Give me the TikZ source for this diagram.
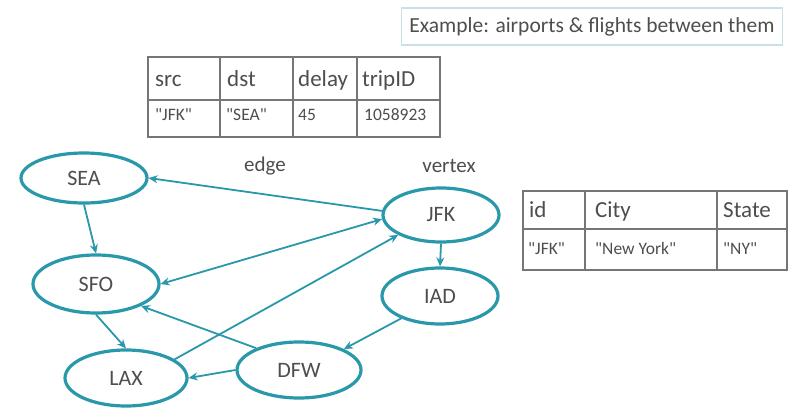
\documentclass[tikz,border=0pt]{standalone}
\usepackage{fontspec}
\setmainfont{Carlito}[Ligatures=TeXOff]
\usetikzlibrary{shapes.geometric,arrows.meta}
\definecolor{edgeteal}{RGB}{40,152,170}
\definecolor{txt}{RGB}{78,78,78}
\definecolor{grid}{RGB}{118,118,118}
\definecolor{boxline}{RGB}{200,225,232}
\begin{document}
\begin{tikzpicture}[x=1pt,y=-1pt,
  airport/.style={ellipse, draw=edgeteal, line width=3.2pt, inner sep=0pt,
    font=\fontsize{22}{24}\selectfont, text=txt},
  flight/.style={draw=edgeteal, line width=1.8pt, -{Stealth[length=9pt,width=8pt]}},
  twoway/.style={draw=edgeteal, line width=1.8pt, {Stealth[length=9pt,width=8pt]}-{Stealth[length=9pt,width=8pt]}},
  gridline/.style={draw=grid, line width=1.6pt},
  head/.style={anchor=base west, inner sep=0pt, text=txt, font=\fontsize{23}{25}\selectfont},
  cell/.style={anchor=base west, inner sep=0pt, text=txt, font=\fontsize{17.5}{19}\selectfont},
  tag/.style={inner sep=0pt, text=txt, font=\fontsize{21}{23}\selectfont}]
\useasboundingbox[fill=white] (0,0) rectangle (789,409);

% caption box
\node[draw=boxline, line width=1.6pt, minimum width=381pt, minimum height=37pt,
  inner sep=0pt, text=txt, font=\fontsize{21.5}{23}\selectfont] (caption) at (592,26.5)
  {Example: airports \& flights between them};

% edge table
\draw[gridline] (148,57) rectangle (440,137);
\draw[gridline] (148,100) -- (440,100);
\foreach \cx in {220,293,357} \draw[gridline] (\cx,57) -- (\cx,137);
\node[head] (e1) at (155,87) {src};
\node[head] (e2) at (227,87) {dst};
\node[head] (e3) at (298,87) {delay};
\node[head] (e4) at (362,87) {tripID};
\node[cell] (e5) at (155,121) {"JFK"};
\node[cell] (e6) at (226,121) {"SEA"};
\node[cell] (e7) at (298,121) {45};
\node[cell] (e8) at (364,121) {1058923};

% vertex table
\draw[gridline] (523,191) rectangle (787,270);
\draw[gridline] (523,229) -- (787,229);
\foreach \cx in {585,717} \draw[gridline] (\cx,191) -- (\cx,270);
\node[head] (v1) at (529,217) {id};
\node[head] (v2) at (595,217) {City};
\node[head] (v3) at (723,217) {State};
\node[cell] (v4) at (528,254) {"JFK"};
\node[cell] (v5) at (595,254) {"New York"};
\node[cell] (v6) at (723,254) {"NY"};

% labels
\node[tag] (edgelbl) at (265,166) {edge};
\node[tag] (vertexlbl) at (449,166) {vertex};

% airports
\node[airport, minimum width=126pt, minimum height=50pt] (SEA) at (84,178) {SEA};
\node[airport, minimum width=116pt, minimum height=54pt] (JFK) at (441,215) {JFK};
\node[airport, minimum width=126pt, minimum height=58pt] (SFO) at (96,284) {SFO};
\node[airport, minimum width=116pt, minimum height=56pt] (IAD) at (440,296) {IAD};
\node[airport, minimum width=122pt, minimum height=56pt] (LAX) at (126,378) {LAX};
\node[airport, minimum width=124pt, minimum height=56pt] (DFW) at (299,370) {DFW};

% flights
\draw[flight] (JFK.176) -- (SEA.east);
\draw[twoway] (SFO.east) -- (JFK.184);
\draw[flight] (SEA.south) -- (SFO.north);
\draw[flight] (SFO.south) -- (LAX.north);
\draw[flight] (LAX.21) -- (JFK.205);
\draw[flight] (DFW.153) -- (SFO.334);
\draw[flight] (DFW.west) -- (LAX.east);
\draw[flight] (JFK.south) -- (IAD.north);
\draw[flight] (IAD.210) -- (DFW.25);
\end{tikzpicture}
\end{document}
